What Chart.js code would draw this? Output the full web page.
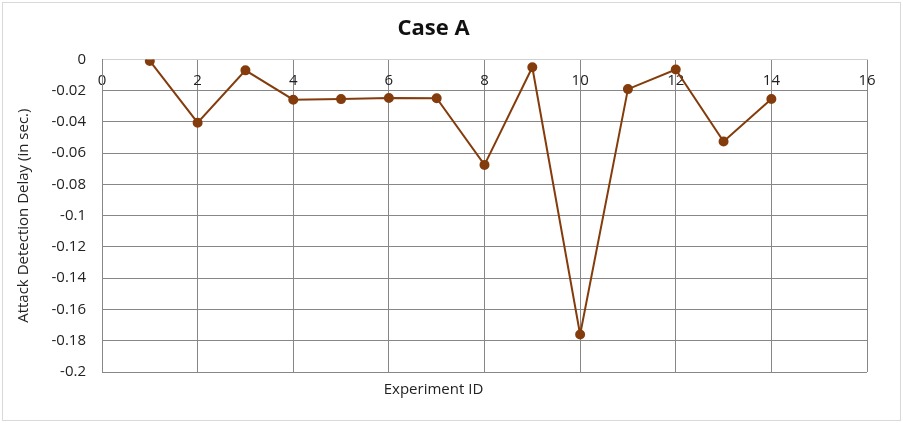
<!DOCTYPE html>
<html>
<head>
<meta charset="utf-8">
<script src="https://cdn.jsdelivr.net/npm/chart.js@4"></script>
<style>
  html, body { margin: 0; padding: 0; background: #fff; }
  #frame { position: absolute; left: 2px; top: 2px; width: 899px; height: 419px; border: 1px solid #d9d9d9; box-sizing: border-box; }
  #box { position: absolute; left: 0; top: 0; width: 903px; height: 423px; }
</style>
</head>
<body>
<div id="frame"></div>
<div id="box"><canvas id="chart"></canvas></div>
<script>
// 实验编号与检测延迟（秒）
const IDS = [1, 2, 3, 4, 5, 6, 7, 8, 9, 10, 11, 12, 13, 14];
const DELAY = [-0.001, -0.0405, -0.007, -0.0258, -0.0254, -0.0247, -0.0248, -0.0675, -0.005, -0.176, -0.019, -0.0065, -0.0525, -0.0253];

const BROWN = '#843c0c';
const GRID = '#878787';
const FONT = "'Open Sans', 'Noto Sans', sans-serif";

new Chart(document.getElementById('chart'), {
  type: 'scatter',
  data: {
    datasets: [{
      data: IDS.map((id, i) => ({x: id, y: DELAY[i]})),
      showLine: true,
      borderColor: BROWN,
      backgroundColor: BROWN,
      borderWidth: 2,
      pointRadius: 4,
      pointHoverRadius: 4,
      tension: 0
    }]
  },
  options: {
    responsive: true,
    maintainAspectRatio: false,
    animation: false,
    layout: {padding: {top: 2, right: 36, bottom: 2, left: 0}},
    plugins: {
      legend: {display: false},
      tooltip: {enabled: false},
      title: {
        display: true,
        text: 'Case A',
        color: '#111',
        font: {family: FONT, size: 22, weight: 'bold', lineHeight: 1.2},
        padding: {top: 14, bottom: 17}
      },
      subtitle: {
        display: true,
        position: 'bottom',
        text: 'Experiment ID',
        color: '#222',
        font: {family: FONT, size: 15, lineHeight: 1.2},
        padding: {top: 9, bottom: 22}
      }
    },
    scales: {
      x: {
        type: 'linear',
        position: {y: 0},
        min: 0,
        max: 16,
        grid: {color: GRID, drawTicks: false},
        border: {color: '#d0d0d0'},
        ticks: {stepSize: 2, autoSkip: false, padding: 12, color: '#222', font: {family: FONT, size: 15}}
      },
      y: {
        min: -0.2,
        max: 0,
        afterFit: s => { s.width = 102; },
        grid: {color: c => (c.tick && c.tick.value === 0) ? '#d0d0d0' : GRID, drawTicks: false},
        border: {color: GRID},
        title: {
          display: true,
          text: 'Attack Detection Delay (in sec.)',
          color: '#222',
          font: {family: FONT, size: 15, lineHeight: 1.2},
          padding: {top: 15, bottom: 0}
        },
        ticks: {
          stepSize: 0.02,
          padding: 16,
          color: '#222',
          font: {family: FONT, size: 15},
          callback: v => String(+v.toFixed(2))
        }
      }
    }
  }
});
</script>
</body>
</html>
